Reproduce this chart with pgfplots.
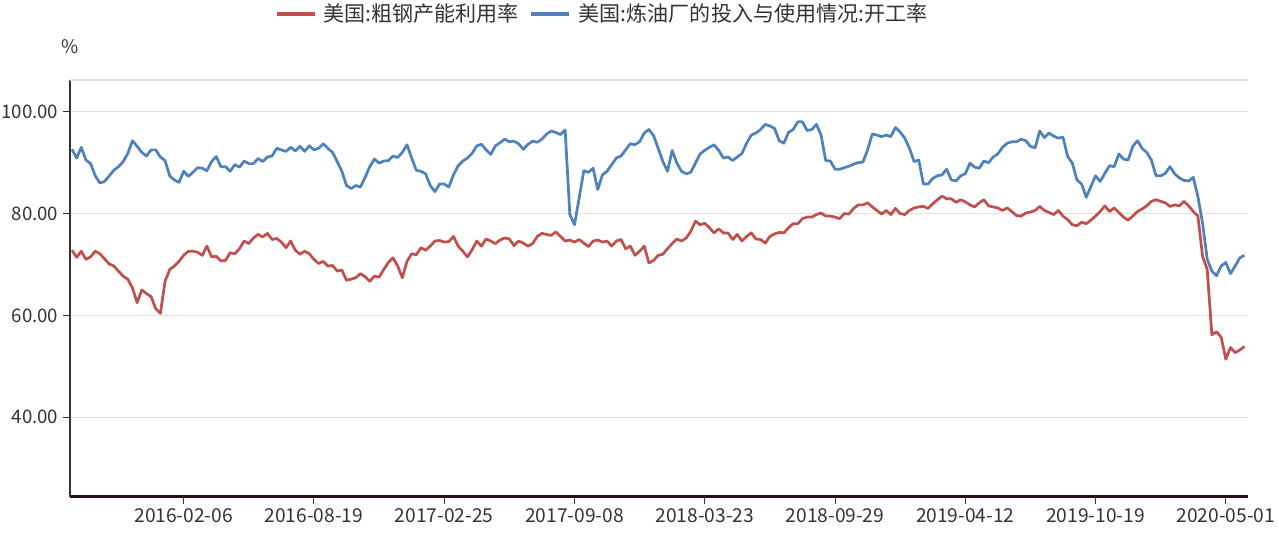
\documentclass[border=0pt]{standalone}
\usepackage{pgfplots}
\pgfplotsset{compat=1.18}
\usepackage{fontspec}
\setmainfont{Noto Sans CJK SC}
\definecolor{redc}{HTML}{C0504D}
\definecolor{bluec}{HTML}{4F81BD}
\definecolor{txt}{HTML}{333333}
\definecolor{gridc}{HTML}{E0E0E0}
\definecolor{axc}{HTML}{333333}
\definecolor{xaxc}{HTML}{2B0B0B}
\begin{document}
\begin{tikzpicture}
\useasboundingbox (-52.5pt,-27.975pt) rectangle (906.75pt,372.525pt);
\begin{axis}[
 at={(0pt,0pt)}, anchor=south west,
 scale only axis, width=883.275pt, height=312.525pt,
 xmin=-0.43, xmax=252.7, ymin=24.41, ymax=106.22,
 axis x line*=bottom, axis y line*=left,
 x axis line style={line width=2pt, color=xaxc},
 y axis line style={line width=0.9pt, color=axc},
 xtick={24,52,80,108,136,164,192,220,248},
 xticklabels={2016-02-06,2016-08-19,2017-02-25,2017-09-08,2018-03-23,2018-09-29,2019-04-12,2019-10-19,2020-05-01},
 ytick={40,60,80,100},
 yticklabels={40.00,60.00,80.00,100.00},
 extra y ticks={106.22}, extra y tick labels={},
 extra y tick style={grid=major, major tick length=0pt},
 ymajorgrids, grid style={color=gridc, line width=0.8pt},
 tick align=outside, major tick length=5.25pt,
 tick style={color=axc, line width=0.75pt},
 x tick label style={font=\fontsize{14.4}{17}\selectfont, text=txt},
 y tick label style={font=\fontsize{14}{16}\selectfont, text=txt},
 ylabel={\%},
 ylabel style={rotate=-90, at={(axis description cs:0,1)}, anchor=south, yshift=16pt, font=\fontsize{14}{16}\selectfont, text=txt},
 legend style={at={(0.4524,1.1584)}, anchor=center, draw=none, fill=none, legend columns=2, font=\fontsize{15.8}{18}\selectfont, text=txt, /tikz/every even column/.append style={column sep=6pt}},
 legend image code/.code={\draw[#1, line width=2.8pt] (0pt,0pt) -- (28.2pt,0pt);},
]
\addplot[color=redc, line width=2.05pt, no markers, line join=round] coordinates {
(0,72.8)(1,71.4)(2,72.6)(3,71.0)(4,71.5)(5,72.6)(6,72.1)(7,71.1)(8,70.1)(9,69.7)(10,68.7)(11,67.7)(12,67.1)(13,65.4)(14,62.5)(15,65.0)(16,64.3)(17,63.7)(18,61.3)(19,60.4)(20,66.7)(21,69.0)(22,69.7)(23,70.6)(24,71.8)(25,72.6)(26,72.6)(27,72.4)(28,71.8)(29,73.6)(30,71.5)(31,71.6)(32,70.7)(33,70.8)(34,72.3)(35,72.1)(36,73.1)(37,74.6)(38,74.1)(39,75.2)(40,75.9)(41,75.4)(42,76.1)(43,74.9)(44,75.1)(45,74.4)(46,73.3)(47,74.6)(48,72.8)(49,72.0)(50,72.6)(51,72.1)(52,71.0)(53,70.2)(54,70.6)(55,69.7)(56,69.8)(57,68.7)(58,68.9)(59,66.9)(60,67.1)(61,67.4)(62,68.2)(63,67.6)(64,66.7)(65,67.7)(66,67.5)(67,69.0)(68,70.4)(69,71.3)(70,69.7)(71,67.4)(72,70.6)(73,72.1)(74,71.9)(75,73.3)(76,72.8)(77,73.6)(78,74.6)(79,74.7)(80,74.4)(81,74.5)(82,75.5)(83,73.6)(84,72.6)(85,71.5)(86,72.9)(87,74.6)(88,73.6)(89,75.0)(90,74.6)(91,74.1)(92,74.8)(93,75.2)(94,75.0)(95,73.7)(96,74.6)(97,74.2)(98,73.6)(99,74.1)(100,75.5)(101,76.1)(102,75.9)(103,75.7)(104,76.4)(105,75.5)(106,74.6)(107,74.8)(108,74.4)(109,74.9)(110,74.2)(111,73.5)(112,74.6)(113,74.8)(114,74.4)(115,74.6)(116,73.6)(117,74.6)(118,74.9)(119,73.1)(120,73.6)(121,71.8)(122,72.6)(123,73.6)(124,70.3)(125,70.8)(126,71.8)(127,72.0)(128,73.1)(129,74.1)(130,75.0)(131,74.6)(132,75.2)(133,76.5)(134,78.5)(135,77.8)(136,78.1)(137,77.2)(138,76.2)(139,77.0)(140,76.2)(141,76.2)(142,74.9)(143,75.9)(144,74.6)(145,75.5)(146,76.2)(147,75.0)(148,74.9)(149,74.2)(150,75.5)(151,76.0)(152,76.3)(153,76.2)(154,77.2)(155,78.0)(156,78.0)(157,79.0)(158,79.3)(159,79.3)(160,79.8)(161,80.1)(162,79.5)(163,79.5)(164,79.3)(165,79.0)(166,80.0)(167,79.9)(168,81.0)(169,81.7)(170,81.7)(171,82.1)(172,81.3)(173,80.6)(174,79.9)(175,80.6)(176,79.8)(177,81.0)(178,80.0)(179,79.8)(180,80.6)(181,81.1)(182,81.3)(183,81.4)(184,81.0)(185,81.9)(186,82.7)(187,83.4)(188,82.9)(189,82.9)(190,82.2)(191,82.7)(192,82.3)(193,81.7)(194,81.3)(195,82.1)(196,82.7)(197,81.5)(198,81.3)(199,81.1)(200,80.6)(201,81.1)(202,80.4)(203,79.6)(204,79.5)(205,80.1)(206,80.3)(207,80.6)(208,81.4)(209,80.6)(210,80.2)(211,79.8)(212,80.6)(213,79.5)(214,78.8)(215,77.8)(216,77.6)(217,78.3)(218,78.0)(219,78.7)(220,79.5)(221,80.4)(222,81.5)(223,80.4)(224,81.1)(225,80.2)(226,79.3)(227,78.7)(228,79.5)(229,80.4)(230,80.9)(231,81.5)(232,82.4)(233,82.7)(234,82.4)(235,82.1)(236,81.4)(237,81.7)(238,81.5)(239,82.4)(240,81.5)(241,80.4)(242,79.5)(243,71.6)(244,69.0)(245,56.2)(246,56.8)(247,55.7)(248,51.4)(249,53.7)(250,52.7)(251,53.2)(252,53.9)
};
\addlegendentry{\hspace{3pt}美国:粗钢产能利用率}
\addplot[color=bluec, line width=2.05pt, no markers, line join=round] coordinates {
(0,92.6)(1,90.9)(2,93.0)(3,90.5)(4,89.8)(5,87.4)(6,86.0)(7,86.3)(8,87.4)(9,88.5)(10,89.2)(11,90.2)(12,91.8)(13,94.3)(14,93.2)(15,92.0)(16,91.3)(17,92.5)(18,92.5)(19,91.1)(20,90.4)(21,87.4)(22,86.6)(23,86.1)(24,88.3)(25,87.3)(26,88.1)(27,89.0)(28,88.9)(29,88.4)(30,90.2)(31,91.2)(32,89.2)(33,89.2)(34,88.3)(35,89.6)(36,89.1)(37,90.3)(38,89.8)(39,89.8)(40,90.8)(41,90.2)(42,91.1)(43,91.3)(44,92.8)(45,92.5)(46,92.2)(47,93.0)(48,92.3)(49,93.2)(50,92.2)(51,93.3)(52,92.5)(53,92.8)(54,93.7)(55,92.8)(56,92.0)(57,90.2)(58,88.3)(59,85.5)(60,84.9)(61,85.5)(62,85.2)(63,87.1)(64,89.2)(65,90.7)(66,89.9)(67,90.3)(68,90.4)(69,91.3)(70,91.0)(71,92.0)(72,93.5)(73,90.9)(74,88.5)(75,88.3)(76,87.8)(77,85.5)(78,84.3)(79,85.8)(80,85.8)(81,85.2)(82,87.6)(83,89.4)(84,90.3)(85,90.9)(86,91.8)(87,93.3)(88,93.6)(89,92.5)(90,91.6)(91,93.3)(92,93.9)(93,94.6)(94,94.1)(95,94.2)(96,93.7)(97,92.6)(98,93.6)(99,94.2)(100,94.0)(101,94.6)(102,95.6)(103,96.2)(104,95.9)(105,95.5)(106,96.4)(107,79.8)(108,77.8)(109,83.0)(110,88.4)(111,88.1)(112,88.9)(113,84.7)(114,87.6)(115,88.3)(116,89.6)(117,90.9)(118,91.3)(119,92.5)(120,93.7)(121,93.5)(122,94.1)(123,95.8)(124,96.5)(125,95.3)(126,92.8)(127,90.2)(128,88.3)(129,92.4)(130,89.9)(131,88.3)(132,87.8)(133,88.1)(134,89.9)(135,91.7)(136,92.4)(137,93.0)(138,93.5)(139,92.4)(140,90.9)(141,91.1)(142,90.4)(143,91.1)(144,91.8)(145,93.8)(146,95.4)(147,95.8)(148,96.5)(149,97.5)(150,97.2)(151,96.7)(152,94.3)(153,93.8)(154,95.9)(155,96.5)(156,98.0)(157,98.0)(158,96.3)(159,96.5)(160,97.5)(161,95.4)(162,90.4)(163,90.3)(164,88.7)(165,88.7)(166,89.0)(167,89.3)(168,89.7)(169,90.0)(170,90.1)(171,92.5)(172,95.6)(173,95.4)(174,95.1)(175,95.4)(176,95.1)(177,96.9)(178,96.0)(179,94.8)(180,92.8)(181,90.2)(182,90.5)(183,85.8)(184,85.8)(185,86.9)(186,87.4)(187,87.6)(188,88.7)(189,86.6)(190,86.4)(191,87.4)(192,87.8)(193,89.9)(194,89.1)(195,88.9)(196,90.3)(197,90.0)(198,91.1)(199,91.7)(200,93.0)(201,93.8)(202,94.1)(203,94.1)(204,94.6)(205,94.3)(206,93.2)(207,92.9)(208,96.2)(209,94.9)(210,95.8)(211,95.2)(212,94.8)(213,95.0)(214,91.2)(215,89.9)(216,86.6)(217,85.8)(218,83.2)(219,85.3)(220,87.4)(221,86.3)(222,87.9)(223,89.4)(224,89.2)(225,91.7)(226,90.7)(227,90.5)(228,93.2)(229,94.3)(230,92.8)(231,92.0)(232,90.5)(233,87.4)(234,87.4)(235,87.9)(236,89.2)(237,87.8)(238,87.0)(239,86.5)(240,86.4)(241,87.1)(242,83.3)(243,78.1)(244,71.0)(245,68.7)(246,67.8)(247,69.7)(248,70.4)(249,68.2)(250,69.7)(251,71.3)(252,71.8)
};
\addlegendentry{\hspace{4pt}美国:炼油厂的投入与使用情况:开工率}
\end{axis}
\end{tikzpicture}
\end{document}
